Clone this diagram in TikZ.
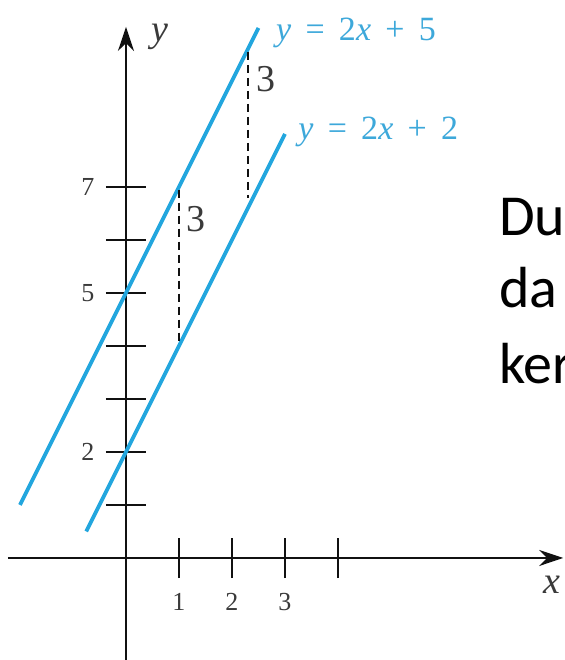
\documentclass[tikz,border=0pt]{standalone}
\usepackage{fontspec}
\setmainfont{Liberation Serif}
\newfontfamily\slidefont{Carlito}
\usepackage{tikz}
\usetikzlibrary{arrows.meta}
\definecolor{ink}{HTML}{111111}
\definecolor{graytext}{HTML}{3A3A3A}
\definecolor{cyanline}{HTML}{22A6DE}
\definecolor{cyantext}{HTML}{3DA8DA}
\newcommand{\lineeq}[1]{\textit{y}\hspace{0.42em}=\hspace{0.42em}2\textit{x}\hspace{0.42em}+\hspace{0.42em}#1}

\begin{document}
\begin{tikzpicture}[x=53pt,y=53pt,
  axis/.style={ink,line width=2.2pt,-{Stealth[length=24pt,width=16pt]}},
  tickmark/.style={ink,line width=2pt},
  parline/.style={cyanline,line width=3.8pt},
  gap/.style={ink,line width=2pt,dash pattern=on 8pt off 5pt},
  ticklabel/.style={font=\fontsize{26}{26}\selectfont,text=graytext,inner sep=0pt},
  rise/.style={font=\fontsize{38}{38}\selectfont,text=graytext,inner sep=0pt},
  axislabel/.style={font=\fontsize{38}{38}\selectfont\itshape,text=graytext,inner sep=0pt},
  eqlabel/.style={font=\fontsize{34}{34}\selectfont,text=cyantext,inner sep=0pt,anchor=base west},
  slide/.style={font=\slidefont\fontsize{58}{72}\selectfont,text=black,inner sep=0pt,anchor=base west}]
  \useasboundingbox (-2.377,-1.925) rectangle (8.283,10.528);
  % y = 2x + 5 and y = 2x + 2, three units apart
  \coordinate (xl) at (-2.23,0);
  \coordinate (xr) at (8.25,0);
  \coordinate (yb) at (0,-1.95);
  \coordinate (yt) at (0,10.02);
  \draw[axis] (xl) -- (xr);
  \draw[axis] (yb) -- (yt);
  \foreach \k in {1,...,7}{\draw[tickmark] (-0.38,\k) -- (0.38,\k);}
  \foreach \k in {1,...,4}{\draw[tickmark] (\k,-0.38) -- (\k,0.38);}
  \foreach \k in {2,5,7}{\node[ticklabel] (ly\k) at (-0.72,\k) {\k};}
  \foreach \k in {1,2,3}{\node[ticklabel] (lx\k) at (\k,-0.83) {\k};}
  \node[axislabel] (ylab) at (0.64,9.83) {y};
  \node[axislabel] (xlab) at (8.04,-0.51) {x};
  \coordinate (a0) at (-2,1);
  \coordinate (a1) at (2.5,10);
  \coordinate (b0) at (-0.75,0.5);
  \coordinate (b1) at (3,8);
  \draw[parline] (a0) -- (a1);
  \draw[parline] (b0) -- (b1);
  \draw[gap] (1,6.95) -- (1,4.1);
  \draw[gap] (2.3,9.55) -- (2.3,6.8);
  \node[rise] (r1) at (1.32,6.40) {3};
  \node[rise] (r2) at (2.64,9.04) {3};
  \node[eqlabel] (eqa) at (2.83,9.77) {\lineeq{5}};
  \node[eqlabel] (eqb) at (3.25,7.89) {\lineeq{2}};
  \foreach \w/\b in {Du/6.075,da/4.717,ker/3.30}{
    \node[slide] (w\w) at (7.04,\b) {\w};}
\end{tikzpicture}
\end{document}
